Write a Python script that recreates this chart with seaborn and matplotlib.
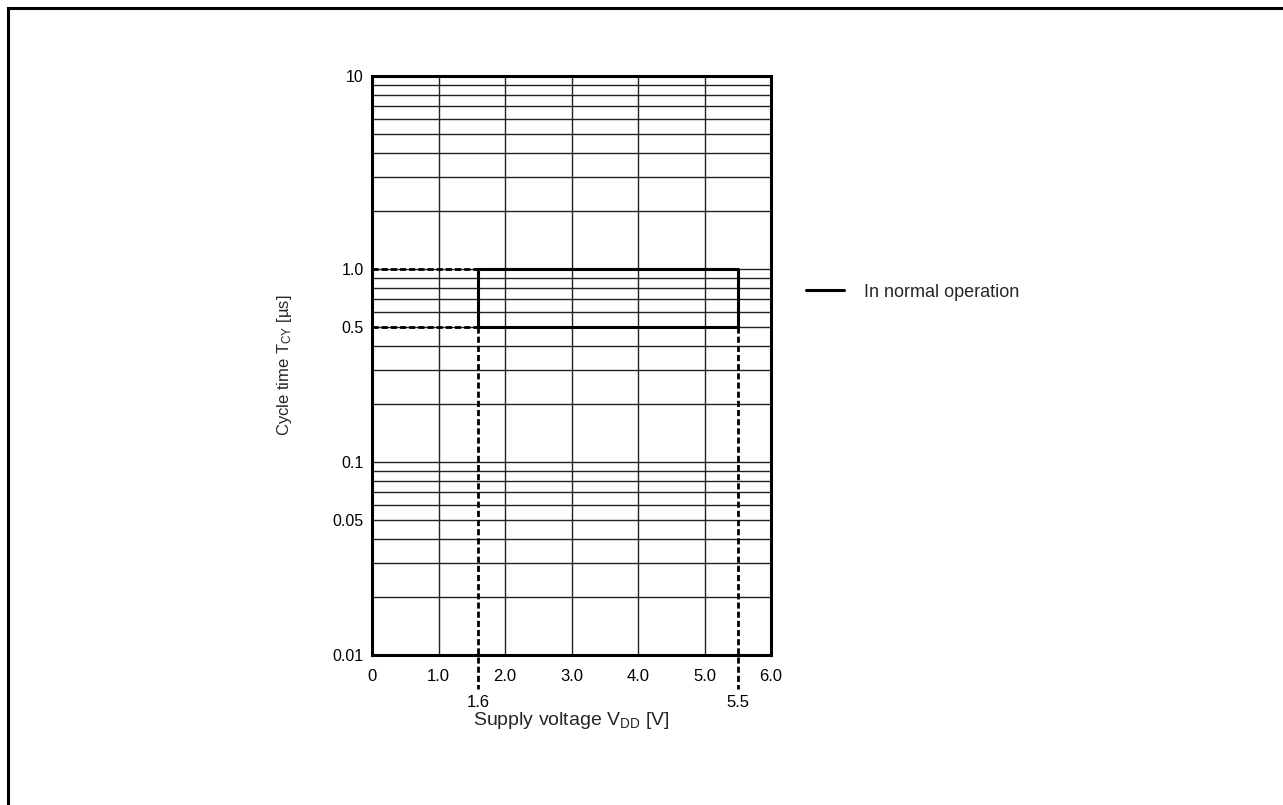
import numpy as np
import pandas as pd
import matplotlib
matplotlib.use("Agg")
import matplotlib.pyplot as plt
import matplotlib.ticker as mticker
import matplotlib.transforms as mtransforms
from matplotlib.lines import Line2D
import seaborn as sns

# ---- data ----
region_voltage = [1.6, 5.5, 5.5, 1.6, 1.6]        # V
region_cycle = [1.0, 1.0, 0.5, 0.5, 1.0]          # us
v_min, v_max = 1.6, 5.5
t_min, t_max = 0.5, 1.0
x_ticks = [0, 1, 2, 3, 4, 5, 6]
x_tick_labels = ["0", "1.0", "2.0", "3.0", "4.0", "5.0", "6.0"]
x_extra_ticks = [1.6, 5.5]
x_extra_labels = ["1.6", "5.5"]
y_ticks = [0.01, 0.05, 0.1, 0.5, 1.0, 10]
y_tick_labels = ["0.01", "0.05", "0.1", "0.5", "1.0", "10"]
series_label = "In normal operation"

sns.set_style("white")
plt.rcParams["font.family"] = ["Liberation Sans", "DejaVu Sans"]
plt.rcParams["mathtext.fontset"] = "custom"
plt.rcParams["mathtext.rm"] = "Liberation Sans"
plt.rcParams["mathtext.it"] = "Liberation Sans"

fig = plt.figure(figsize=(12.83, 8.05), dpi=100)
ax = fig.add_axes([372 / 1283, 1 - 655 / 805, (771 - 372) / 1283, (655 - 76) / 805])

ax.set_yscale("log")
ax.set_xlim(0, 6)
ax.set_ylim(0.01, 10)

# grid
ax.set_xticks(x_ticks)
ax.set_xticklabels(x_tick_labels)
ax.set_xticks(x_extra_ticks, minor=True)
ax.set_xticklabels(x_extra_labels, minor=True)
ax.set_yticks(y_ticks)
ax.set_yticklabels(y_tick_labels)
ax.yaxis.set_minor_locator(mticker.LogLocator(base=10, subs=np.arange(2, 10)))
ax.yaxis.set_minor_formatter(mticker.NullFormatter())
ax.grid(True, which="major", axis="x", color="#222222", lw=1.0)
ax.grid(True, which="both", axis="y", color="#222222", lw=1.0)
ax.set_axisbelow(True)

ax.tick_params(axis="both", which="both", length=0, colors="black")
ax.tick_params(axis="x", which="both", labelsize=12)
ax.tick_params(axis="y", which="both", labelsize=11.5)
ax.tick_params(axis="x", which="major", pad=10)
ax.tick_params(axis="x", which="minor", pad=28.5)
ax.tick_params(axis="y", which="major", pad=6)

for s in ax.spines.values():
    s.set_linewidth(2.2)
    s.set_color("black")
    s.set_zorder(5)

# region outline
df = pd.DataFrame({"V": region_voltage, "T": region_cycle})
sns.lineplot(data=df, x="V", y="T", sort=False, estimator=None, color="black",
             lw=2.2, ax=ax, label=series_label, zorder=6)

# dashed guides
dash = (0, (2.2, 1.1))
for t in (t_min, t_max):
    ax.plot([0, v_min], [t, t], color="black", lw=2.0, linestyle=dash, zorder=6)
trans = mtransforms.blended_transform_factory(ax.transData, ax.transAxes)
y_low = np.log10(t_min / 0.01) / 3.0
for v in (v_min, v_max):
    ax.plot([v, v], [y_low, -0.058], color="black", lw=2.0, linestyle=dash,
            transform=trans, clip_on=False, zorder=6)

ax.set_xlabel("Supply voltage V$_{\\rm DD}$ [V]", fontsize=14, labelpad=0)
ax.set_ylabel("Cycle time T$_{\\rm CY}$ [µs]", fontsize=12, labelpad=28)

# legend
ax.get_legend().remove()
fig.legend(handles=[Line2D([], [], color="black", lw=2.2)], labels=[series_label],
           loc="center left", bbox_to_anchor=(806 / 1283, 1 - 292 / 805),
           frameon=False, fontsize=13, handlelength=2.1, handletextpad=1.1,
           borderpad=0, borderaxespad=0)

# outer frame (top and left edges visible)
fig.add_artist(Line2D([7.5 / 1283, 7.5 / 1283], [0, 1 - 8.5 / 805], color="black",
                      lw=2.2, transform=fig.transFigure, solid_capstyle="projecting"))
fig.add_artist(Line2D([7.5 / 1283, 1.0], [1 - 8.5 / 805, 1 - 8.5 / 805], color="black",
                      lw=2.2, transform=fig.transFigure, solid_capstyle="projecting"))

fig.savefig("out.png", dpi=100, facecolor="white")
